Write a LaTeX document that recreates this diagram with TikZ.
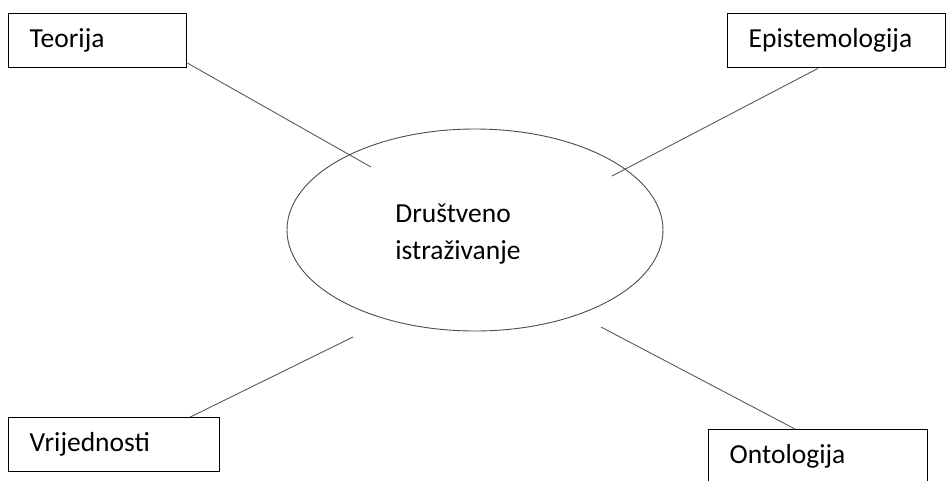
\documentclass[tikz,border=0pt]{standalone}
\usepackage{fontspec}
\setmainfont{Carlito}
\usepackage{tikz}
\usetikzlibrary{shapes.geometric}

\tikzset{
  pojam/.style={draw, line width=1.4pt, anchor=north west, inner xsep=21pt,
    minimum height=54pt, align=left},
  veza/.style={draw=black!65, line width=0.9pt}
}

\begin{document}
\begin{tikzpicture}[x=1pt,y=-1pt]
\fontsize{27.5}{37}\selectfont
\useasboundingbox (0,0) rectangle (946,480);
  \node[draw=black!70, line width=0.9pt, ellipse, minimum width=376pt, minimum height=202pt] (dru) at (475,230) {};
  \node[align=left] (drutxt) at (458,234) {Društveno\\istraživanje};
  \node[pojam, text width=136pt] (teo) at (8,13) {Teorija};
  \node[pojam, text width=176pt] (epi) at (727,13) {Epistemologija};
  \node[pojam, text width=169pt] (vri) at (8,417) {Vrijednosti};
  \node[pojam, text width=177pt] (ont) at (708,429) {Ontologija};
  \coordinate (teoend) at (371,167);
  \coordinate (epiend) at (612,176);
  \coordinate (vriend) at (353,337);
  \coordinate (ontend) at (601,327);
  \draw[veza] (teo.-14) -- (teoend);
  \draw[veza] (epi.236) -- (epiend);
  \draw[veza] (vri.20) -- (vriend);
  \draw[veza] (ont.130) -- (ontend);
\end{tikzpicture}
\end{document}
